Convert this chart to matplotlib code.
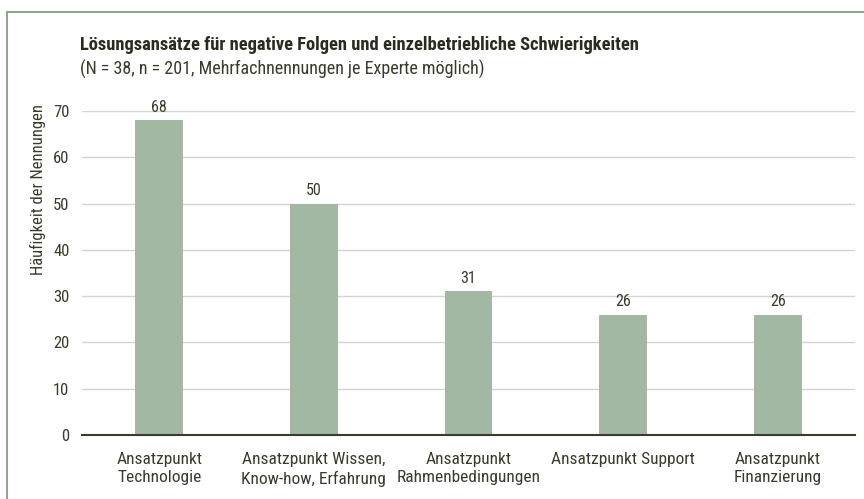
import matplotlib
matplotlib.use("Agg")
import matplotlib.pyplot as plt
from matplotlib.lines import Line2D

plt.rcParams["font.family"] = ["Roboto Condensed", "Lato", "DejaVu Sans"]

categories = [
    "Ansatzpunkt\nTechnologie",
    "Ansatzpunkt Wissen,\nKnow-how, Erfahrung",
    "Ansatzpunkt\nRahmenbedingungen",
    "Ansatzpunkt Support",
    "Ansatzpunkt\nFinanzierung",
]
counts = [68, 50, 31, 26, 26]
yticks = [0, 10, 20, 30, 40, 50, 60, 70]

TEXT = "#3b3a2c"
BAR = "#a3b8a3"
FRAME = "#8fa58f"

fig = plt.figure(figsize=(8.64, 4.99), dpi=100)
ax = fig.add_axes([0.0949, 0.1283, 0.8947, 0.6493])

x = range(len(categories))
ax.bar(x, counts, width=0.31, color=BAR, zorder=2)
for i, v in enumerate(counts):
    ax.text(i, v + 1.2, str(v), ha="center", va="bottom", fontsize=11.5, color=TEXT)

ax.set_xlim(-0.5, len(categories) - 0.5)
ax.set_ylim(0, 70)
ax.set_yticks(yticks)
ax.set_xticks(list(x))
ax.set_xticklabels(categories, fontsize=12.5, color=TEXT, linespacing=1.3)
ax.tick_params(axis="y", length=0, pad=9, labelsize=12, labelcolor=TEXT)
ax.tick_params(axis="x", length=0, pad=12)
ax.set_ylabel("Häufigkeit der Nennungen", fontsize=12, color=TEXT, labelpad=5, loc="top")
ax.yaxis.label.set_y(1.02)

ax.grid(axis="y", color="#d4d4d4", linewidth=1, zorder=0)
for s in ["top", "right", "left"]:
    ax.spines[s].set_visible(False)
ax.spines["bottom"].set_color(TEXT)
ax.spines["bottom"].set_linewidth(1.5)
ax.spines["bottom"].set_zorder(3)

fig.text(0.0926, 0.91, "Lösungsansätze für negative Folgen und einzelbetriebliche Schwierigkeiten",
         fontsize=13.3, fontweight="bold", color="#2b2a1e", va="center")
fig.text(0.0926, 0.86, "(N = 38, n = 201, Mehrfachnennungen je Experte möglich)",
         fontsize=13, color=TEXT, va="center")

# frame
fig.add_artist(Line2D([0.0081, 1.0], [0.976, 0.976], transform=fig.transFigure,
                      color=FRAME, linewidth=1.5))
fig.add_artist(Line2D([0.0081, 0.0081], [0.0, 0.976], transform=fig.transFigure,
                      color=FRAME, linewidth=1.5))

fig.savefig("out.png", dpi=100)
